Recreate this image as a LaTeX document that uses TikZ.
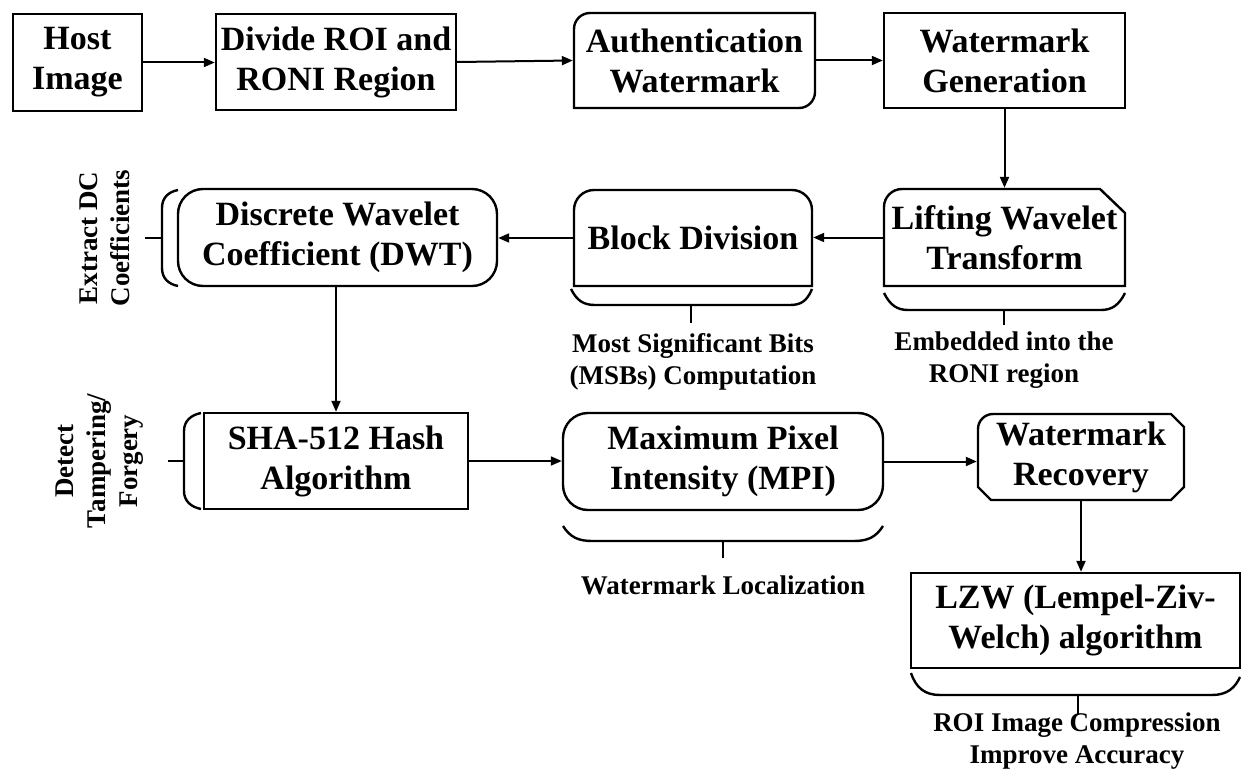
\documentclass[tikz,border=0pt]{standalone}
\usepackage{fontspec}
\setmainfont{Liberation Serif}
\usetikzlibrary{arrows.meta}
\newcommand{\mybig}{\fontsize{34bp}{40bp}\selectfont\bfseries}
\newcommand{\mysmall}{\fontsize{27bp}{32bp}\selectfont\bfseries}
\begin{document}
\begin{tikzpicture}[x=1bp,y=1bp,
  box/.style={line width=2.4bp, inner sep=0pt, align=center, font=\mybig},
  sz/.style 2 args={minimum width=#1bp, minimum height=#2bp},
  arr/.style={line width=2bp, -{Triangle[length=11bp,width=9bp]}},
  ln/.style={line width=2.4bp},
  lab/.style={inner sep=0pt, align=center, font=\mysmall}]
\useasboundingbox (0,0) rectangle (1242,-769);

% ---- row 1
\node[box, draw, sz={129}{97}] (host) at (77.5,-62.5) {Host\\Image};
\node[box, draw, sz={240}{96}] (div) at (336,-62) {Divide ROI and\\RONI Region};
\node[box, sz={241}{95}] (auth) at (694.5,-60.5) {Authentication\\Watermark};
\draw[ln] (574,-108) -- (574,-29) arc[start angle=180,end angle=90,radius=16bp]
  -- (815,-13) -- (815,-92) arc[start angle=0,end angle=-90,radius=16bp] -- cycle;
\node[box, draw, sz={241}{95}] (wg) at (1004.5,-60.5) {Watermark\\Generation};

% ---- row 2
\node[box, sz={241}{97}] (lwt) at (1004.5,-237.5) {Lifting Wavelet\\Transform};
\draw[ln] (884,-286) -- (884,-207) arc[start angle=180,end angle=90,radius=18bp]
  -- (1100,-189) -- (1125,-213) -- (1125,-286) -- cycle;
\node[box, sz={238}{96}] (blk) at (693,-238) {Block Division};
\draw[ln] (574,-286) -- (574,-210) arc[start angle=180,end angle=90,radius=20bp]
  -- (792,-190) arc[start angle=90,end angle=0,radius=20bp] -- (812,-286) -- cycle;
\node[box, draw, rounded corners=25bp, sz={319}{97}] (dwt) at (337.5,-237.5) {Discrete Wavelet\\Coefficient (DWT)};

% ---- row 3
\node[box, draw, sz={264}{96}] (sha) at (336,-461) {SHA-512 Hash\\Algorithm};
\node[box, draw, rounded corners=25bp, sz={320}{97}] (mpi) at (723,-461.5) {Maximum Pixel\\Intensity (MPI)};
\node[box, sz={206}{86}] (wr) at (1081,-457) {Watermark\\Recovery};
\draw[ln] (978,-487) -- (978,-429) arc[start angle=180,end angle=90,radius=15bp]
  -- (1171,-414) -- (1184,-427) -- (1184,-487) -- (1171,-500) -- (991,-500) -- cycle;
\node[box, draw, sz={329}{95}] (lzw) at (1075.5,-620.5) {LZW (Lempel-Ziv-\\Welch) algorithm};

% ---- connectors
\draw[arr] (host.east) -- (host.east -| div.west);
\draw[arr] (div.east) -- (auth.west);
\draw[arr] (auth.east) -- (wg.west);
\draw[arr] (wg.south) -- (lwt.north);
\draw[arr] (lwt.west) -- (lwt.west -| blk.east);
\draw[arr] (blk.west) -- (blk.west -| dwt.east);
\draw[arr] (sha.north |- dwt.south) -- (sha.north);
\draw[arr] (sha.east) -- (sha.east -| mpi.west);
\draw[arr] (mpi.east) -- (mpi.east -| wr.west);
\draw[arr] (wr.south) -- (wr.south |- lzw.north);

% ---- braces
\draw[ln] (571,-289) .. controls (577,-301) and (584,-305) .. (595,-305) -- (790,-305)
  .. controls (801,-305) and (807,-301) .. (812,-289);
\draw[ln] (691,-305) -- (691,-323);
\draw[ln] (884,-293) .. controls (890,-305) and (897,-310) .. (908,-310) -- (1101,-310)
  .. controls (1112,-310) and (1119,-305) .. (1125,-293);
\draw[ln] (1004,-310) -- (1004,-325);
\draw[ln] (563,-526) .. controls (570,-537) and (578,-541) .. (592,-541) -- (854,-541)
  .. controls (868,-541) and (876,-537) .. (883,-526);
\draw[ln] (723,-541) -- (723,-558);
\draw[ln] (911,-673) .. controls (916,-688) and (925,-695) .. (940,-695) -- (1212,-695)
  .. controls (1227,-695) and (1235,-688) .. (1240,-677);
\draw[ln] (1078,-695) -- (1078,-715);
% left brackets
\draw[ln] (178,-190) .. controls (168,-192) and (162,-198) .. (162,-208) -- (162,-268)
  .. controls (162,-278) and (168,-284) .. (178,-286);
\draw[ln] (145,-238) -- (162,-238);
\draw[ln] (201,-413) .. controls (191,-415) and (184,-421) .. (184,-431) -- (184,-491)
  .. controls (184,-501) and (191,-507) .. (201,-509);
\draw[ln] (168,-461) -- (184,-461);

% ---- labels
\node[lab] (msb) at (693,-362) {Most Significant Bits\\(MSBs) Computation};
\node[lab] (emb) at (1004,-360) {Embedded into the\\RONI region};
\node[lab] (loc) at (723,-585) {Watermark Localization};
\node[lab] (roi) at (1077,-741) {ROI Image Compression\\Improve Accuracy};
\node[lab, rotate=90] (edc) at (105,-238) {Extract DC\\Coefficients};
\node[lab, rotate=90] (dtf) at (100,-461) {Detect\\Tampering/\\Forgery};
\end{tikzpicture}
\end{document}
